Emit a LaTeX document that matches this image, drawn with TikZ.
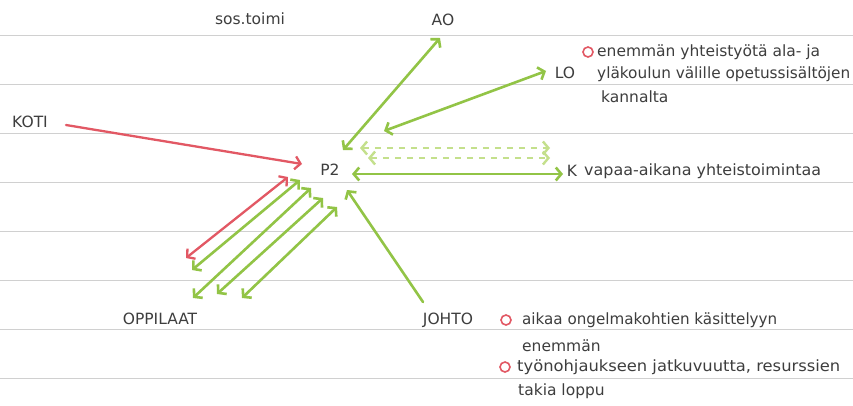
\documentclass[tikz,border=0pt]{standalone}
\usepackage{fontspec}
\setmainfont{DejaVu Sans}
\usepackage{graphicx}
\usetikzlibrary{arrows.meta}
\definecolor{pgreen}{RGB}{146,196,70}
\definecolor{pgreenlt}{RGB}{196,224,140}
\definecolor{pred}{RGB}{226,88,100}
\definecolor{rulegray}{RGB}{208,208,208}
\definecolor{ink}{RGB}{62,62,62}
\newcommand\fitto[2]{\resizebox{#1}{\height}{#2}}
\begin{document}
\begin{tikzpicture}[x=1pt,y=-1pt,
  >={Straight Barb[length=5.5pt,width=13pt]},
  txt/.style={font=\fontsize{15.5}{18}\selectfont, text=ink, inner sep=0pt},
  ruleline/.style={draw=rulegray, line width=1pt},
  garr/.style={draw=pgreen, line width=2.6pt, line cap=round},
  gdash/.style={draw=pgreenlt, line width=2.4pt, dash pattern=on 6pt off 6pt},
  rarr/.style={draw=pred, line width=2.3pt, line cap=round},
  bullet/.style={draw=pred, circle, line width=1.6pt, minimum size=10pt, inner sep=0pt}
]
\fill[white] (0,0) rectangle (853,405);
\useasboundingbox (0,0) rectangle (853,405);
% ruled paper
\foreach \yy in {35,84,133,182,231,280,329,378}
  \draw[ruleline] (0,\yy) -- (853,\yy);

% labels
\node[txt] (sos) at (250,19) {sos.toimi};
\node[txt] (AO) at (443,20) {AO};
\node[txt] (LO) at (565,73) {LO};
\node[txt] (KOTI) at (30,122) {KOTI};
\node[txt] (P2) at (330,170) {P2};
\node[txt] (K) at (572,171) {K};
\node[txt] (OPP) at (160,319) {OPPILAAT};
\node[txt] (JOHTO) at (448,320) {JOHTO};

% notes
\node[bullet] (b1) at (588,52) {};
\node[txt,anchor=west] (n1a) at (597,52) {\fitto{223pt}{enemmän yhteistyötä ala- ja}};
\node[txt,anchor=west] (n1b) at (597,74) {\fitto{253pt}{yläkoulun välille opetussisältöjen}};
\node[txt,anchor=west] (n1c) at (601,97) {kannalta};
\node[txt,anchor=west] (kt) at (584,171) {\fitto{237pt}{vapaa-aikana yhteistoimintaa}};
\node[bullet] (b2) at (506,320) {};
\node[txt,anchor=west] (n2a) at (522,320) {\fitto{255pt}{aikaa ongelmakohtien käsittelyyn}};
\node[txt,anchor=west] (n2b) at (522,346) {enemmän};
\node[bullet] (b3) at (505,367) {};
\node[txt,anchor=west] (n3a) at (517,367) {\fitto{323pt}{työnohjaukseen jatkuvuutta, resurssien}};
\node[txt,anchor=west] (n3b) at (518,391) {takia loppu};

% connector end points
\coordinate (aoT) at (440,38);
\coordinate (aoB) at (343,150);
\coordinate (loT) at (546,71);
\coordinate (loB) at (384,131);
\coordinate (kL) at (352,174);
\coordinate (kR) at (563,174);
\coordinate (d1L) at (360,148);
\coordinate (d1R) at (550,148);
\coordinate (d2L) at (368,158);
\coordinate (d2R) at (550,158);
\coordinate (kotiS) at (66,125);
\coordinate (kotiE) at (302,164);
\coordinate (rT) at (288,177);
\coordinate (rB) at (186,258);
\coordinate (g1T) at (300,180);
\coordinate (g1B) at (192,270);
\coordinate (g2T) at (311,188);
\coordinate (g2B) at (193,298);
\coordinate (g3T) at (323,198);
\coordinate (g3B) at (217,294);
\coordinate (g4T) at (337,207);
\coordinate (g4B) at (242,298);
\coordinate (jS) at (423,302);
\coordinate (jE) at (347,190);

% connectors
\draw[garr,<->] (aoB) -- (aoT);
\draw[garr,<->] (loB) -- (loT);
\draw[gdash,<->] (d1L) -- (d1R);
\draw[gdash,<->] (d2L) -- (d2R);
\draw[garr,<->] (kL) -- (kR);
\draw[rarr,->] (kotiS) -- (kotiE);
\draw[rarr,<->] (rB) -- (rT);
\draw[garr,<->] (g1B) -- (g1T);
\draw[garr,<->] (g2B) -- (g2T);
\draw[garr,<->] (g3B) -- (g3T);
\draw[garr,<->] (g4B) -- (g4T);
\draw[garr,->] (jS) -- (jE);
\end{tikzpicture}
\end{document}
